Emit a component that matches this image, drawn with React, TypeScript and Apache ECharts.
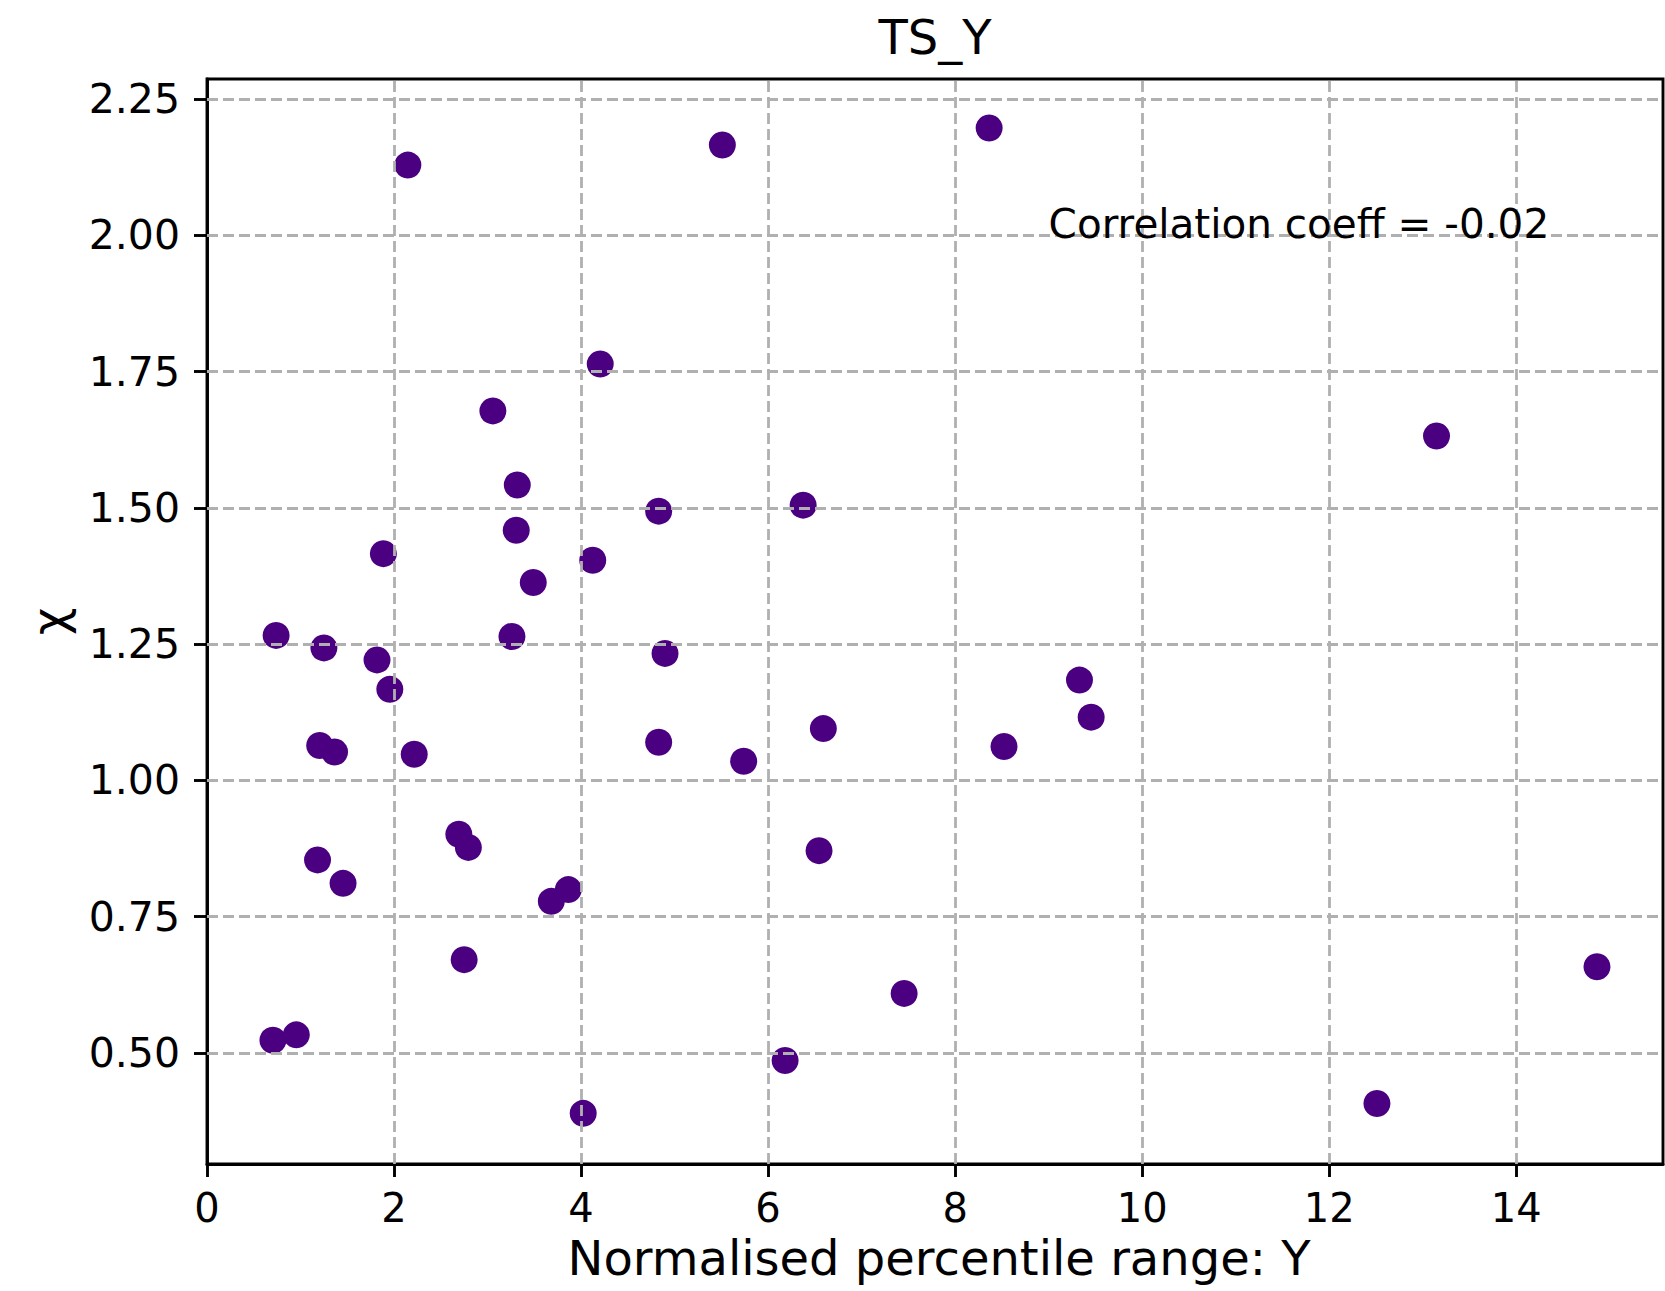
import React, { useEffect, useRef } from "react";
import * as echarts from "echarts";

// Normalised percentile range: Y
const xValues = [
  2.148, 5.511, 8.364, 4.205, 3.057, 13.148, 3.318, 4.83, 6.375, 3.307,
  1.886, 4.125, 3.489, 0.739, 3.261, 1.25, 4.898, 1.818, 1.955, 9.33,
  9.455, 6.591, 4.83, 1.205, 1.364, 2.216, 8.523, 5.739, 2.693, 2.795,
  6.545, 1.182, 1.455, 3.864, 3.682, 2.75, 7.455, 14.864, 0.705, 0.955,
  6.182, 4.023, 12.511,
];
// χ
const yValues = [
  2.129, 2.166, 2.197, 1.764, 1.678, 1.632, 1.542, 1.494, 1.505, 1.459,
  1.416, 1.404, 1.363, 1.266, 1.264, 1.243, 1.233, 1.221, 1.167, 1.184,
  1.116, 1.095, 1.07, 1.064, 1.052, 1.048, 1.062, 1.035, 0.901, 0.877,
  0.871, 0.854, 0.811, 0.7995, 0.778, 0.671, 0.609, 0.658, 0.523, 0.533,
  0.486, 0.389, 0.407,
];

const xTicks = [0, 2, 4, 6, 8, 10, 12, 14];
const yTicks = [0.5, 0.75, 1.0, 1.25, 1.5, 1.75, 2.0, 2.25];
const xRange = [0, 15.57];
const yRange = [0.296, 2.287];

const titleText = "TS_Y";
const xName = "Normalised percentile range: Y";
const yName = "χ";
const corrText = "Correlation coeff = -0.02";
const corrPos = [9.0, 2.0];

const FONT = "DejaVu Sans";
const DOT = "#4b0082";
const GRID = "#b0b0b0";

export default function App() {
  const ref = useRef<HTMLDivElement>(null);

  useEffect(() => {
    if (!ref.current) return;
    const chart = echarts.init(ref.current, undefined, { renderer: "svg" });
    const points = xValues.map((x, i) => [x, yValues[i]]);
    const gridLines = [
      ...xTicks.filter((v) => v > xRange[0] && v < xRange[1]).map((v) => ({ xAxis: v })),
      ...yTicks.filter((v) => v > yRange[0] && v < yRange[1]).map((v) => ({ yAxis: v })),
    ];
    const option: any = {
      animation: false,
      backgroundColor: "#ffffff",
      title: {
        text: titleText,
        left: 930,
        top: 8,
        textAlign: "center",
        textStyle: { fontFamily: FONT, fontSize: 48, fontWeight: "normal", color: "#000" },
      },
      grid: {
        left: 207,
        top: 79,
        right: 2,
        bottom: 127,
        show: true,
        borderColor: "#000",
        borderWidth: 2.9,
        backgroundColor: "transparent",
      },
      xAxis: {
        type: "value",
        min: xRange[0],
        max: xRange[1],
        name: xName,
        nameLocation: "middle",
        nameGap: 70,
        nameTextStyle: {
          fontFamily: FONT,
          fontSize: 48,
          color: "#000",
          padding: [0, 0, 0, 8],
        },
        axisLine: { show: true, lineStyle: { color: "#000", width: 2.9 } },
        axisTick: {
          show: true,
          inside: false,
          length: 13,
          customValues: xTicks,
          lineStyle: { color: "#000", width: 2.9 },
        },
        axisLabel: {
          show: true,
          customValues: xTicks,
          margin: 24,
          fontFamily: FONT,
          fontSize: 40,
          color: "#000",
          formatter: (v: number) => String(v),
        },
        splitLine: { show: false },
      },
      yAxis: {
        type: "value",
        min: yRange[0],
        max: yRange[1],
        name: yName,
        nameLocation: "middle",
        nameRotate: 90,
        nameGap: 134,
        nameTextStyle: { fontFamily: FONT, fontSize: 48, color: "#000" },
        axisLine: { show: true, lineStyle: { color: "#000", width: 2.9 } },
        axisTick: {
          show: true,
          inside: false,
          length: 13,
          customValues: yTicks,
          lineStyle: { color: "#000", width: 2.9 },
        },
        axisLabel: {
          show: true,
          customValues: yTicks,
          margin: 27,
          fontFamily: FONT,
          fontSize: 41,
          color: "#000",
          formatter: (v: number) => v.toFixed(2),
        },
        splitLine: { show: false },
      },
      series: [
        {
          type: "scatter",
          data: points,
          symbol: "circle",
          symbolSize: 27,
          itemStyle: { color: DOT, opacity: 1 },
          silent: true,
          markLine: {
            silent: true,
            symbol: "none",
            label: { show: false },
            lineStyle: { color: GRID, width: 2.8, type: [11, 5], opacity: 1 },
            data: gridLines,
          },
        },
        {
          type: "scatter",
          z: 10,
          data: [corrPos],
          symbolSize: 0,
          silent: true,
          itemStyle: { opacity: 1 },
          label: {
            show: true,
            formatter: corrText,
            position: [0, 0],
            align: "left",
            verticalAlign: "bottom",
            offset: [0, 9],
            fontFamily: FONT,
            fontSize: 40.5,
            color: "#000",
            opacity: 1,
            textBorderWidth: 0,
          },
        },
      ],
    };
    chart.setOption(option);
    return () => chart.dispose();
  }, []);

  return (
    <div
      ref={ref}
      style={{ position: "fixed", left: 0, top: 0, width: 1665, height: 1291 }}
    />
  );
}
